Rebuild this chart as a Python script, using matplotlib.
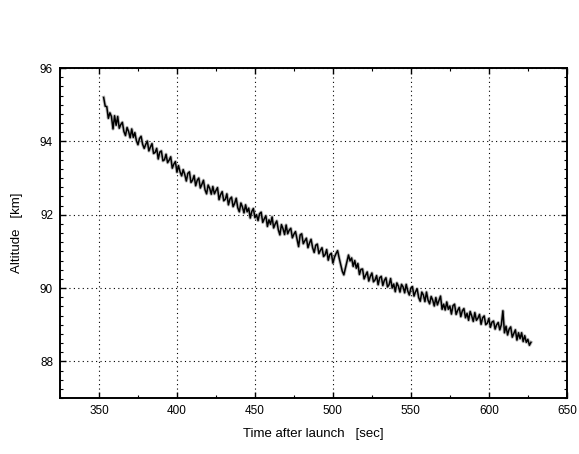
import numpy as np
import matplotlib
matplotlib.use("Agg")
import matplotlib.pyplot as plt
from matplotlib.ticker import MultipleLocator

# Time samples (1 s) and altitude readings (km)
time_s = np.arange(353, 628)
altitude_km = [
    95.20, 94.96, 94.95, 94.63, 94.78, 94.68, 94.34, 94.70, 94.44, 94.68,
    94.36, 94.46, 94.52, 94.27, 94.16, 94.38, 94.27, 94.10, 94.34, 94.11,
    94.24, 94.02, 93.91, 94.08, 94.14, 93.92, 93.81, 93.92, 94.01, 93.74,
    93.85, 93.94, 93.67, 93.70, 93.81, 93.52, 93.71, 93.74, 93.47, 93.50,
    93.65, 93.42, 93.49, 93.58, 93.27, 93.38, 93.45, 93.16, 93.34, 93.17,
    93.06, 93.23, 93.10, 92.92, 93.13, 93.17, 92.88, 92.94, 93.07, 92.79,
    92.94, 93.00, 92.73, 92.83, 92.94, 92.68, 92.57, 92.81, 92.72, 92.56,
    92.77, 92.57, 92.66, 92.74, 92.41, 92.55, 92.63, 92.38, 92.42, 92.57,
    92.27, 92.43, 92.48, 92.22, 92.31, 92.45, 92.19, 92.08, 92.32, 92.21,
    92.05, 92.27, 92.08, 92.18, 91.91, 92.09, 92.17, 91.92, 92.00, 91.84,
    92.03, 92.07, 91.79, 91.89, 91.97, 91.68, 91.86, 91.74, 91.94, 91.64,
    91.75, 91.83, 91.59, 91.45, 91.73, 91.62, 91.46, 91.72, 91.48, 91.58,
    91.63, 91.37, 91.47, 91.54, 91.34, 91.13, 91.45, 91.48, 91.21, 91.29,
    91.36, 91.10, 91.23, 91.33, 91.10, 90.97, 91.17, 91.20, 90.94, 91.03,
    91.10, 90.86, 90.91, 91.05, 90.76, 90.91, 90.95, 90.68, 90.84, 90.94,
    91.02, 90.82, 90.64, 90.46, 90.36, 90.54, 90.72, 90.90, 90.74, 90.82,
    90.59, 90.75, 90.54, 90.67, 90.37, 90.51, 90.52, 90.25, 90.35, 90.44,
    90.19, 90.32, 90.41, 90.17, 90.22, 90.34, 90.09, 90.28, 90.32, 90.07,
    90.21, 90.28, 90.03, 90.09, 90.26, 90.00, 90.11, 89.90, 90.14, 90.05,
    89.89, 90.10, 90.03, 89.87, 90.10, 89.92, 89.81, 90.00, 90.04, 89.78,
    89.90, 89.98, 89.74, 89.64, 89.89, 89.81, 89.63, 89.89, 89.67, 89.57,
    89.77, 89.67, 89.51, 89.74, 89.54, 89.66, 89.78, 89.42, 89.56, 89.40,
    89.62, 89.42, 89.51, 89.29, 89.52, 89.56, 89.28, 89.39, 89.47, 89.22,
    89.38, 89.44, 89.19, 89.31, 89.12, 89.36, 89.24, 89.09, 89.33, 89.12,
    89.18, 89.28, 89.01, 89.19, 89.24, 89.00, 89.04, 89.17, 88.93, 89.07,
    89.10, 88.88, 89.00, 89.06, 88.86, 89.00, 89.38, 88.78, 88.96, 88.72,
    88.88, 88.94, 88.66, 88.76, 88.86, 88.58, 88.78, 88.62, 88.78, 88.54,
    88.70, 88.52, 88.60, 88.44, 88.52,
]

x_ticks = [350, 400, 450, 500, 550, 600, 650]
y_ticks = [88, 90, 92, 94, 96]

plt.rcParams['font.family'] = ['Liberation Sans', 'DejaVu Sans']

fig = plt.figure(figsize=(5.79, 4.54), dpi=100)
ax = fig.add_axes([0.1036, 0.1233, 0.8754, 0.7267])

ax.plot(time_s, altitude_km, color='#888888', lw=2.4, alpha=0.55)
ax.plot(time_s, altitude_km, color='black', lw=1.1)

ax.set_xlim(325, 650)
ax.set_ylim(87, 96)
ax.set_xticks(x_ticks)
ax.set_yticks(y_ticks)
ax.xaxis.set_minor_locator(MultipleLocator(25))
ax.yaxis.set_minor_locator(MultipleLocator(0.25))

ax.grid(True, which='major', color='black', linestyle=(0, (1, 3)), linewidth=0.8)
ax.tick_params(which='both', direction='in', top=True, right=True, labelsize=8.5, pad=5)
ax.tick_params(which='major', length=4, width=1)
ax.tick_params(which='minor', length=2.5, width=0.8)
for s in ax.spines.values():
    s.set_linewidth(1.4)

ax.set_xlabel('Time after launch   [sec]', fontsize=9.5, labelpad=8)
ax.set_ylabel('Altitude   [km]', fontsize=9.5, labelpad=12)

fig.savefig('out.png', dpi=100)
